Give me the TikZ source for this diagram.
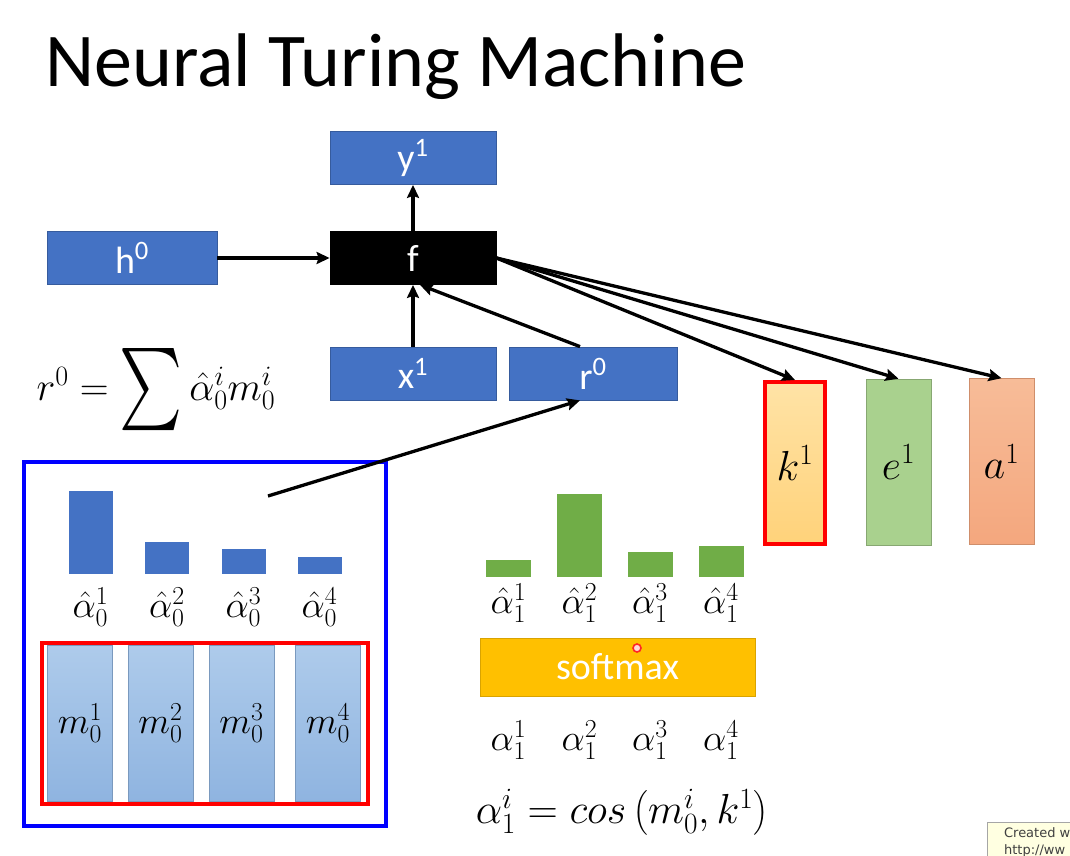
\documentclass[tikz,border=0pt]{standalone}
\usepackage{fix-cm}
\usepackage{exscale}
\usepackage{graphicx}
\usepackage{fontspec}
\setmainfont{Carlito}
\newfontfamily\tipfont{DejaVu Sans}
\usetikzlibrary{arrows.meta, positioning}

\definecolor{boxblue}{HTML}{4472C4}
\definecolor{bargreen}{HTML}{70AD47}
\definecolor{memtop}{HTML}{AECBEB}
\definecolor{membot}{HTML}{8FB4E0}
\definecolor{softgold}{HTML}{FFC000}
\definecolor{ktop}{HTML}{FFE3A6}
\definecolor{kbot}{HTML}{FFD27A}
\definecolor{egreen}{HTML}{A9D18E}
\definecolor{atop}{HTML}{F7BC98}
\definecolor{abot}{HTML}{F4A77E}
\definecolor{tipyellow}{HTML}{FFFFE1}

\newcommand{\bigsum}{\mathop{\vcenter{\hbox{\scalebox{2.4}[3.3]{$\sum$}}}}}

\begin{document}
\begin{tikzpicture}[x=1pt, y=-1pt, >={Stealth[length=13pt, width=12pt, inset=2pt]},
    txt/.style={font=\fontsize{38}{40}\selectfont},
    mth/.style={font=\fontsize{37}{40}\selectfont, inner sep=0pt},
    bluebox/.style={draw=boxblue!80!black, line width=0.8pt, fill=boxblue, text=white, txt,
        minimum width=166pt, minimum height=53pt, inner sep=0pt},
    funcbox/.style={bluebox, draw=black, fill=black},
    tallbox/.style={minimum width=65pt, minimum height=166pt, inner sep=0pt, font=\fontsize{42}{46}\selectfont},
    memcell/.style={draw=membot!85!black, line width=0.5pt, top color=memtop, bottom color=membot,
        minimum width=65pt, minimum height=156pt, inner sep=0pt, mth},
    flow/.style={->, line width=3.3pt}]
    \useasboundingbox (0,0) rectangle (1070,856);

    % title
    \node[font=\fontsize{76}{80}\selectfont, anchor=base west] (title) at (42,87) {Neural Turing Machine};

    % controller and its inputs / outputs
    \node[bluebox] (y1) at (413,158) {y\textsuperscript{1}};
    \node[funcbox] (f) at (413,258) {f};
    \node[bluebox, minimum width=170pt] (h0) at (132,258) {h\textsuperscript{0}};
    \node[bluebox] (x1) at (413,373.5) {x\textsuperscript{1}};
    \node[bluebox, minimum width=168pt] (r0) at (593,373.5) {r\textsuperscript{0}};

    \node[tallbox, draw=red, line width=4pt, top color=ktop, bottom color=kbot, minimum width=60pt, minimum height=162pt] (k1) at (795,463) {$k^1$};
    \node[tallbox, draw=egreen!80!black, line width=0.6pt, fill=egreen] (e1) at (898.5,462) {$e^1$};
    \node[tallbox, draw=abot!85!black, line width=0.6pt, top color=atop, bottom color=abot] (a1) at (1001.5,461.5) {$a^1$};

    \node[font=\fontsize{40}{44}\selectfont, inner sep=0pt] (rsum) at (156,390) {$r^0 = \bigsum \hat{\alpha}_0^i m_0^i$};

    % memory at step 0
    \node[draw=blue, line width=4pt, minimum width=362pt, minimum height=364pt] (mem) at (205,644) {};
    \foreach \i/\x/\h in {1/90.5/83, 2/167/32, 3/243.5/25, 4/319.5/17} {
        \fill[boxblue] (\x-22,574) rectangle ++(44,-\h);
        \node[mth] (ahat0\i) at (\x,607) {$\hat{\alpha}_0^{\i}$};
    }
    \foreach \i/\x in {1/80, 2/160.5, 3/241.5, 4/328}
        \node[memcell] (m\i) at (\x,723) {$m_0^{\i}$};
    \node[draw=red, line width=4pt, minimum width=326pt, minimum height=161pt] (ram) at (205,723.5) {};

    % attention at step 1
    \foreach \i/\x/\h in {1/508.5/17, 2/579.5/83, 3/650/25, 4/721/31} {
        \fill[bargreen] (\x-22.5,577) rectangle ++(45,-\h);
        \node[mth] (ahat1\i) at (\x,603) {$\hat{\alpha}_1^{\i}$};
        \node[mth] (alpha1\i) at (\x,740) {$\alpha_1^{\i}$};
    }
    \node[draw=softgold!85!black, line width=0.6pt, fill=softgold, text=white, txt,
        minimum width=275pt, minimum height=58pt, inner sep=0pt] (soft) at (617.5,667) {softmax};
    \draw[red!85, line width=1.6pt, fill=red!15] (637,648) circle (4pt);
    \node[font=\fontsize{42}{46}\selectfont, inner sep=0pt] (cosf) at (622,812) {$\alpha_1^i = cos\left(m_0^i, k^1\right)$};

    % connections
    \draw[flow] (h0) -- (f);
    \draw[flow] (f) -- (y1);
    \draw[flow] (x1) -- (f);
    \draw[flow] ([xshift=-13pt]r0.north) -- ([xshift=7pt]f.south);
    \draw[flow] (f.east) -- (k1.north);
    \draw[flow] (f.east) -- (e1.north);
    \draw[flow] (f.east) -- (a1.north);
    \coordinate (rd) at (268,496);
    \draw[flow] (rd) -- ([xshift=-13pt]r0.south);

    % screen capture tip
    \node[draw=gray!70, fill=tipyellow, anchor=north west, align=left, inner sep=5pt,
        font=\tipfont\fontsize{13}{17}\selectfont, text=black!75, minimum width=100pt] (tip) at (987,822) {Created w\\http://ww};
\end{tikzpicture}
\end{document}
